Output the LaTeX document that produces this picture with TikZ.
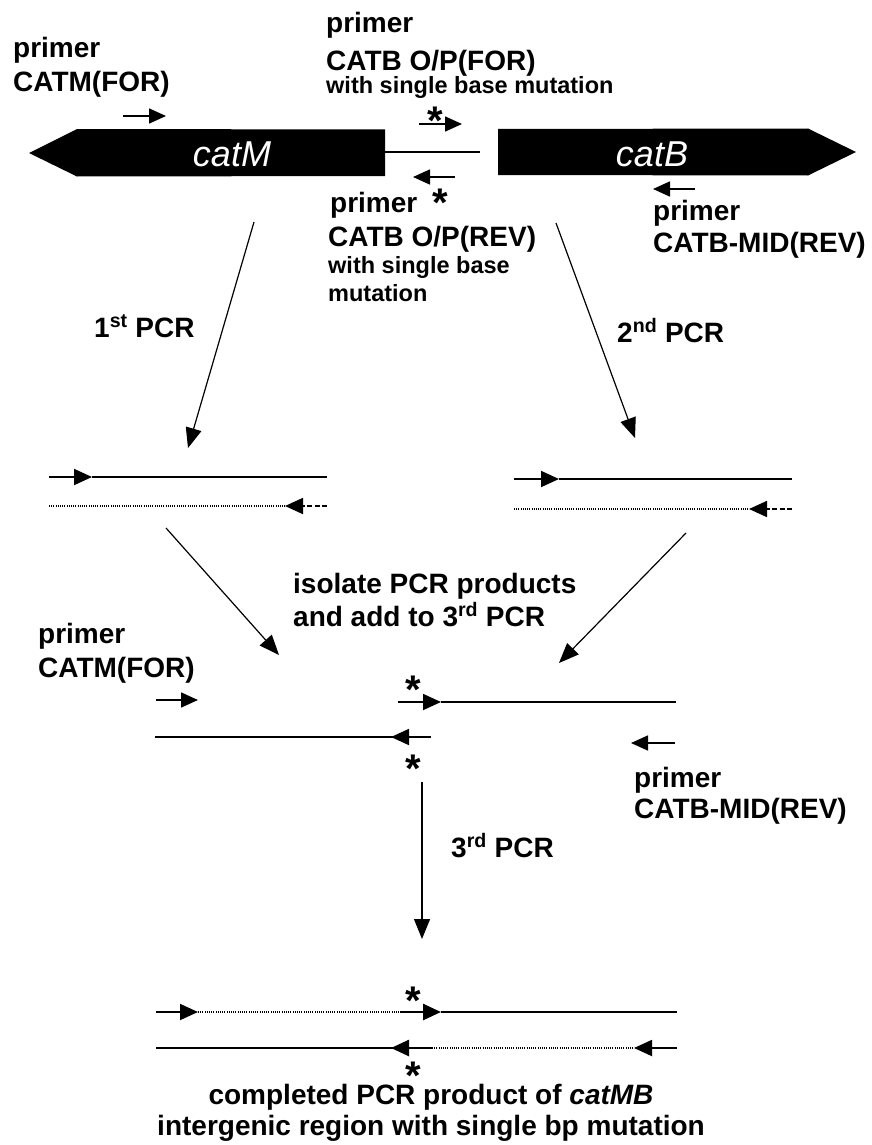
\documentclass[tikz,border=0pt]{standalone}
\usepackage{fontspec}
\setmainfont{Liberation Sans}
\usetikzlibrary{arrows.meta}

\newcommand{\mutmark}{\raisebox{-0.42em}[0.32em][0pt]{*}}

\tikzset{
  lbl/.style={font=\fontsize{28}{32}\selectfont\bfseries, inner sep=0, anchor=base west},
  note/.style={font=\fontsize{23.5}{27}\selectfont\bfseries, inner sep=0, anchor=base west},
  ctr/.style={font=\fontsize{28}{32}\selectfont\bfseries, inner sep=0, anchor=base},
  gene/.style={font=\fontsize{36}{40}\selectfont\itshape, text=white, inner sep=0, anchor=base},
  ast/.style={font=\fontsize{40}{40}\selectfont\bfseries, inner sep=0, anchor=base},
  flow/.style={line width=1.2pt, -{Triangle[length=20pt,width=16pt]}},
  primerarrow/.style={line width=1.6pt, -{Triangle[length=17pt,width=15pt]}},
  strand/.style={line width=1.8pt},
  strandtip/.style={line width=1.8pt, -{Triangle[length=18pt,width=16pt]}},
  thicktip/.style={line width=2.6pt, -{Triangle[length=18pt,width=16pt]}},
  dotstrand/.style={line width=1.2pt, dash pattern=on 0.9pt off 1.3pt},
  dashtip/.style={line width=1.7pt, dash pattern=on 5pt off 2.5pt, -{Triangle[length=18pt,width=16pt]}},
}

\begin{document}
\begin{tikzpicture}[x=1pt,y=-1pt]
\useasboundingbox (0,0) rectangle (872,1145);

% ---------------- genes ----------------
\fill (29,153) -- (77,129) -- (385,129.5) -- (385,176) -- (77,176.5) -- cycle;
\fill (498,129) -- (808,128.5) -- (856,152) -- (808,175.5) -- (498,175) -- cycle;
\coordinate (mR) at (385,152);
\coordinate (bL) at (480,152);
\draw[line width=1.5pt] (mR) -- (bL);
\node[gene] (catM) at (232,166) {catM};
\node[gene] (catB) at (652,166) {catB};

% primers on the gene map
\coordinate (pf1a) at (123,116);  \coordinate (pf1b) at (166,116);
\draw[primerarrow] (pf1a) -- (pf1b);
\coordinate (pf2a) at (419,124);  \coordinate (pf2b) at (462,124);
\draw[primerarrow] (pf2a) -- (pf2b);
\coordinate (pr1a) at (455,177);  \coordinate (pr1b) at (413,177);
\draw[primerarrow] (pr1a) -- (pr1b);
\coordinate (pr2a) at (695,189);  \coordinate (pr2b) at (653,189);
\draw[primerarrow] (pr2a) -- (pr2b);
\node[ast] (ast1) at (435,118) {\mutmark};
\node[ast] (ast2) at (440,200) {\mutmark};

% primer labels
\node[lbl] (t1a) at (13,58) {primer};
\node[lbl] (t1b) at (13,92) {CATM(FOR)};
\node[lbl] (t2a) at (326,33) {primer};
\node[lbl] (t2b) at (326,71) {CATB O/P(FOR)};
\node[note] (t2c) at (326,94) {with single base mutation};
\node[lbl] (t3a) at (330,212) {primer};
\node[lbl] (t3b) at (328,246) {CATB O/P(REV)};
\node[note] (t3c) at (328,273) {with single base};
\node[note] (t3d) at (328,301) {mutation};
\node[lbl] (t4a) at (653,220) {primer};
\node[lbl] (t4b) at (653,252) {CATB-MID(REV)};

% ---------------- first and second PCR ----------------
\coordinate (f1a) at (254,222); \coordinate (f1b) at (188,448);
\draw[flow] (f1a) -- (f1b);
\coordinate (f2a) at (556,223); \coordinate (f2b) at (635,438);
\draw[flow] (f2a) -- (f2b);
\node[lbl] (pcr1) at (94,337) {1\textsuperscript{st} PCR};
\node[lbl] (pcr2) at (617,342) {2\textsuperscript{nd} PCR};

% product of the first PCR
\coordinate (a1) at (49,477);  \coordinate (a1h) at (92,477);  \coordinate (a1e) at (327,477);
\draw[strandtip] (a1) -- (a1h);
\draw[strand] (a1h) -- (a1e);
\coordinate (a2) at (49,506);  \coordinate (a2h) at (285,506); \coordinate (a2e) at (327,506);
\draw[dotstrand] (a2) -- (a2h);
\draw[dashtip] (a2e) -- (a2h);

% product of the second PCR
\coordinate (b1) at (514,479); \coordinate (b1h) at (559,479); \coordinate (b1e) at (792,479);
\draw[strandtip] (b1) -- (b1h);
\draw[strand] (b1h) -- (b1e);
\coordinate (b2) at (514,509); \coordinate (b2h) at (749,509); \coordinate (b2e) at (792,509);
\draw[dotstrand] (b2) -- (b2h);
\draw[dashtip] (b2e) -- (b2h);

% ---------------- combining ----------------
\coordinate (f3a) at (166,528); \coordinate (f3b) at (279,655);
\draw[flow] (f3a) -- (f3b);
\coordinate (f4a) at (686,533); \coordinate (f4b) at (559,663);
\draw[flow] (f4a) -- (f4b);
\node[lbl] (iso1) at (293,593) {isolate PCR products};
\node[lbl] (iso2) at (293,626) {and add to 3\textsuperscript{rd} PCR};

\node[lbl] (t5a) at (38,643) {primer};
\node[lbl] (t5b) at (38,677) {CATM(FOR)};
\coordinate (pf3a) at (156,700); \coordinate (pf3b) at (198,700);
\draw[primerarrow] (pf3a) -- (pf3b);
\coordinate (pr3a) at (675,743); \coordinate (pr3b) at (631,743);
\draw[primerarrow] (pr3a) -- (pr3b);
\node[lbl] (t6a) at (634,787) {primer};
\node[lbl] (t6b) at (634,818) {CATB-MID(REV)};

\coordinate (c1) at (398,702); \coordinate (c1h) at (441,702); \coordinate (c1e) at (676,702);
\draw[strandtip] (c1) -- (c1h);
\draw[strand] (c1h) -- (c1e);
\coordinate (c2) at (155,737); \coordinate (c2h) at (391,737); \coordinate (c2e) at (431,737);
\draw[strand] (c2) -- (395,737);
\draw[strandtip] (c2e) -- (c2h);
\node[ast] (ast3) at (413,687) {\mutmark};
\node[ast] (ast4) at (413,766) {\mutmark};

% ---------------- third PCR ----------------
\coordinate (f5a) at (422,782); \coordinate (f5b) at (422,939);
\draw[flow] (f5a) -- (f5b);
\node[lbl] (pcr3) at (451,857) {3\textsuperscript{rd} PCR};

% completed product
\coordinate (d1) at (156,1012); \coordinate (d1h) at (198,1012);
\coordinate (d1m) at (401,1012); \coordinate (d1k) at (441,1012); \coordinate (d1e) at (677,1012);
\draw[strandtip] (d1) -- (d1h);
\draw[dotstrand] (d1h) -- (d1m);
\draw[thicktip] (d1m) -- (d1k);
\draw[strand] (d1k) -- (d1e);
\coordinate (e1) at (156,1048); \coordinate (e1h) at (391,1048);
\coordinate (e1m) at (432,1048); \coordinate (e1k) at (634,1048); \coordinate (e1e) at (677,1048);
\draw[strand] (e1) -- (395,1048);
\draw[thicktip] (e1m) -- (e1h);
\draw[dotstrand] (e1m) -- (e1k);
\draw[strandtip] (e1e) -- (e1k);
\node[ast] (ast5) at (413,998) {\mutmark};
\node[ast] (ast6) at (413,1073) {\mutmark};

\node[ctr] (fin1) at (431,1104) {completed PCR product of \textit{catMB}};
\node[ctr] (fin2) at (431,1135) {intergenic region with single bp mutation};
\end{tikzpicture}
\end{document}
